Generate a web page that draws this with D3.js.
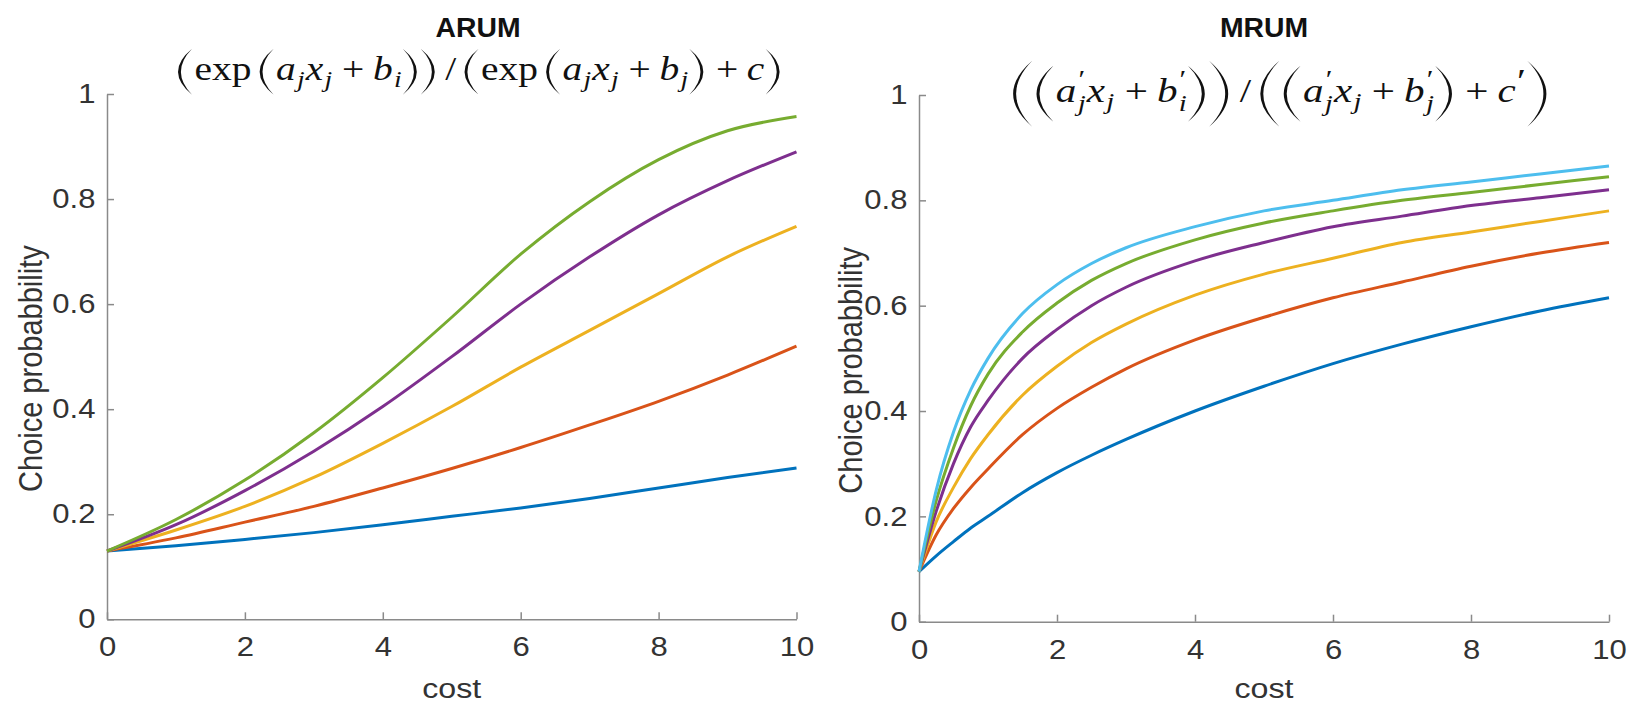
<!DOCTYPE html>
<html><head><meta charset="utf-8">
<script src="https://cdn.jsdelivr.net/npm/d3@7"></script>
<style>
body{margin:0;background:#fff}
</style>
</head><body>
<svg id="chart" width="1627" height="706"></svg>
<script>
// ---------- data ----------
const seriesColors = ["#0072BD","#D95319","#EDB120","#7E2F8E","#77AC30","#4DBEEE"];

const arumCost   = [0,1,2,3,4,5,6,7,8,9,10];
const arumBlue   = [0.130,0.140,0.152,0.165,0.180,0.196,0.212,0.230,0.250,0.270,0.288];
const arumOrange = [0.130,0.155,0.185,0.215,0.250,0.287,0.327,0.370,0.415,0.465,0.520];
const arumYellow = [0.130,0.170,0.215,0.270,0.335,0.405,0.480,0.550,0.620,0.690,0.748];
const arumPurple = [0.130,0.180,0.245,0.320,0.405,0.500,0.600,0.690,0.770,0.835,0.890];
const arumGreen  = [0.130,0.190,0.265,0.355,0.460,0.575,0.695,0.795,0.875,0.930,0.957];

const mrumCost      = [0,0.25,0.5,0.75,1,1.5,2,2.5,3,4,5,6,7,8,9,10];
const mrumBlue      = [0.095,0.125,0.152,0.178,0.200,0.245,0.283,0.316,0.346,0.400,0.447,0.490,0.527,0.560,0.590,0.615];
const mrumOrange    = [0.095,0.165,0.215,0.255,0.290,0.355,0.405,0.445,0.480,0.535,0.578,0.615,0.645,0.675,0.700,0.720];
const mrumYellow    = [0.095,0.190,0.255,0.310,0.355,0.430,0.485,0.530,0.565,0.620,0.660,0.690,0.720,0.740,0.760,0.780];
const mrumPurple    = [0.095,0.210,0.300,0.370,0.420,0.500,0.555,0.600,0.635,0.685,0.720,0.750,0.770,0.790,0.805,0.820];
const mrumGreen     = [0.095,0.230,0.330,0.410,0.470,0.550,0.605,0.648,0.680,0.725,0.757,0.780,0.800,0.815,0.830,0.845];
const mrumLightBlue = [0.095,0.250,0.360,0.440,0.500,0.585,0.640,0.680,0.710,0.750,0.780,0.800,0.820,0.835,0.850,0.865];

const xTicks = [0,2,4,6,8,10];
const xTickLabels = ["0","2","4","6","8","10"];
const yTicks = [0,0.2,0.4,0.6,0.8,1];
const yTickLabels = ["0","0.2","0.4","0.6","0.8","1"];

const xLabel = "cost";
const yLabel = "Choice probabbility";
const titles = ["ARUM","MRUM"];

// ---------- drawing ----------
const svg = d3.select("#chart");
const axisColor = "#8a8a8a", textColor = "#333";
const SANS = "'Liberation Sans', Arial, Helvetica, sans-serif";
const SERIF = "'Liberation Serif', 'Times New Roman', serif";
const HS = 1.15; // horizontal stretch of the original picture's lettering

const panels = [
  {box:{x0:107,x1:796.5,y0:619.3,y1:94}, cost:arumCost,
   series:[arumBlue,arumOrange,arumYellow,arumPurple,arumGreen], ylabX:42, title:titles[0], titleX:478},
  {box:{x0:919,x1:1609,y0:621.7,y1:95}, cost:mrumCost,
   series:[mrumBlue,mrumOrange,mrumYellow,mrumPurple,mrumGreen,mrumLightBlue], ylabX:862, title:titles[1], titleX:1264}
];

panels.forEach(p=>{
  const x = d3.scaleLinear().domain([0,10]).range([p.box.x0,p.box.x1]);
  const y = d3.scaleLinear().domain([0,1]).range([p.box.y0,p.box.y1]);
  const g = svg.append("g");

  const xa = g.append("g").attr("transform",`translate(0,${p.box.y0})`)
    .call(d3.axisBottom(x).tickValues(xTicks).tickFormat((d,i)=>xTickLabels[i])
      .tickSizeInner(-7).tickSizeOuter(0).tickPadding(18));
  const ya = g.append("g").attr("transform",`translate(${p.box.x0},0)`)
    .call(d3.axisLeft(y).tickValues(yTicks).tickFormat((d,i)=>yTickLabels[i])
      .tickSizeInner(-7).tickSizeOuter(0).tickPadding(10));
  [xa,ya].forEach(a=>{
    a.select(".domain").attr("stroke",axisColor).attr("stroke-width",1.5);
    a.selectAll(".tick line").attr("stroke",axisColor).attr("stroke-width",1.5);
    a.selectAll(".tick text").attr("fill",textColor).attr("font-size",27)
      .style("font-family",SANS).attr("transform",`scale(${HS},1)`);
  });

  const line = d3.line().x((d,i)=>x(p.cost[i])).y(d=>y(d)).curve(d3.curveMonotoneX);
  p.series.forEach((s,i)=>{
    g.append("path").datum(s).attr("d",line).attr("fill","none")
      .attr("stroke",seriesColors[i]).attr("stroke-width",3).attr("stroke-linejoin","round");
  });

  const cx = (p.box.x0+p.box.x1)/2, cy=(p.box.y0+p.box.y1)/2;
  g.append("text").attr("transform",`translate(${cx},698) scale(${HS},1)`).attr("text-anchor","middle")
    .attr("font-size",28).attr("fill",textColor).style("font-family",SANS).text(xLabel);
  g.append("text").attr("transform",`translate(${p.ylabX},${cy+12}) scale(${HS},1) rotate(-90)`)
    .attr("text-anchor","middle").attr("font-size",29).attr("fill",textColor).style("font-family",SANS).text(yLabel);
  g.append("text").attr("transform",`translate(${p.titleX},37) scale(1.05,1)`).attr("text-anchor","middle")
    .attr("font-size",27).attr("font-weight","bold").attr("fill","#111").style("font-family",SANS).text(p.title);
});

// ---------- formula layout ----------
function parenPath(w,h,t){
  const c = -0.8*w;
  return `M${w},${-h/2} Q${c},0 ${w},${h/2} Q${c+2*t},0 ${w},${-h/2} Z`;
}
function formula(pieces, fs, cx, baseline, targetW){
  const g = svg.append("g");
  let xpos = 0;
  const axis = -0.25*fs;
  const addText = (txt,x,y,size,it)=> g.append("text").attr("x",x).attr("y",y)
      .attr("font-size",size).style("font-family",SERIF)
      .style("font-style",it?"italic":"normal").attr("fill","#111").text(txt);
  pieces.forEach(pc=>{
    if(pc.gap!==undefined){ xpos += pc.gap*fs; return; }
    if(pc.paren){
      const pg = g.append("g");
      pg.append("path").attr("d",parenPath(pc.w,pc.h,pc.t||2.4)).attr("fill","#111");
      if(pc.paren==="(") pg.attr("transform",`translate(${xpos},${axis})`);
      else pg.attr("transform",`translate(${xpos+pc.w},${axis}) scale(-1,1)`);
      xpos += pc.w + 2; return;
    }
    if(pc.stack){
      let mw=0;
      pc.stack.forEach(st=>{
        const t = addText(st.t, xpos+(st.dx||0)*fs, st.dy*fs, fs*(st.sz||0.7), st.it);
        mw = Math.max(mw, t.node().getComputedTextLength()+(st.dx||0)*fs);
      });
      xpos += mw + 1; return;
    }
    const t = addText(pc.t, xpos, pc.sub?0.22*fs:0, pc.sub?fs*0.7:fs, pc.it);
    xpos += t.node().getComputedTextLength() + (pc.it?1:0);
  });
  const sx = targetW/xpos;
  g.attr("transform",`translate(${cx - targetW/2},${baseline}) scale(${sx},1)`);
  return sx;
}
const T=(t)=>({t}), I=(t)=>({t,it:true}), S=(t)=>({t,it:true,sub:true}), G=(g)=>({gap:g});
const P=(s,h,w)=>({paren:s,h:h,w:w});

const aH=46, aW=13;
const arumPieces = [
  P("(",aH,aW), T("exp"), G(0.17), P("(",aH,aW), I("a"), S("j"), I("x"), S("j"), G(0.22), T("+"), G(0.22), I("b"), S("i"),
  P(")",aH,aW), P(")",aH,aW), G(0.17), T("/"), G(0.17),
  P("(",aH,aW), T("exp"), G(0.17), P("(",aH,aW), I("a"), S("j"), I("x"), S("j"), G(0.22), T("+"), G(0.22), I("b"), S("j"),
  P(")",aH,aW), G(0.22), T("+"), G(0.22), I("c"), P(")",aH,aW)
];
const bigH=66, bigW=17, medH=56, medW=15;
const primeSub = (s)=>({stack:[{t:"′",dy:-0.42,dx:0.02,it:false,sz:0.75},{t:s,dy:0.28,it:true}]});
const mrumPieces = [
  P("(",bigH,bigW), P("(",medH,medW), I("a"), primeSub("j"), I("x"), S("j"), G(0.22), T("+"), G(0.22), I("b"), primeSub("i"),
  P(")",medH,medW), P(")",bigH,bigW), G(0.17), T("/"), G(0.17),
  P("(",bigH,bigW), P("(",medH,medW), I("a"), primeSub("j"), I("x"), S("j"), G(0.22), T("+"), G(0.22), I("b"), primeSub("j"),
  P(")",medH,medW), G(0.22), T("+"), G(0.22), I("c"), {stack:[{t:"′",dy:-0.3,it:false,sz:1}]}, P(")",bigH,bigW)
];
const s1 = formula(arumPieces, 33, 480, 80, 607);
const s2 = formula(mrumPieces, 33, 1281, 102, 540);
console.log("scales", s1, s2);
</script>
</body></html>
